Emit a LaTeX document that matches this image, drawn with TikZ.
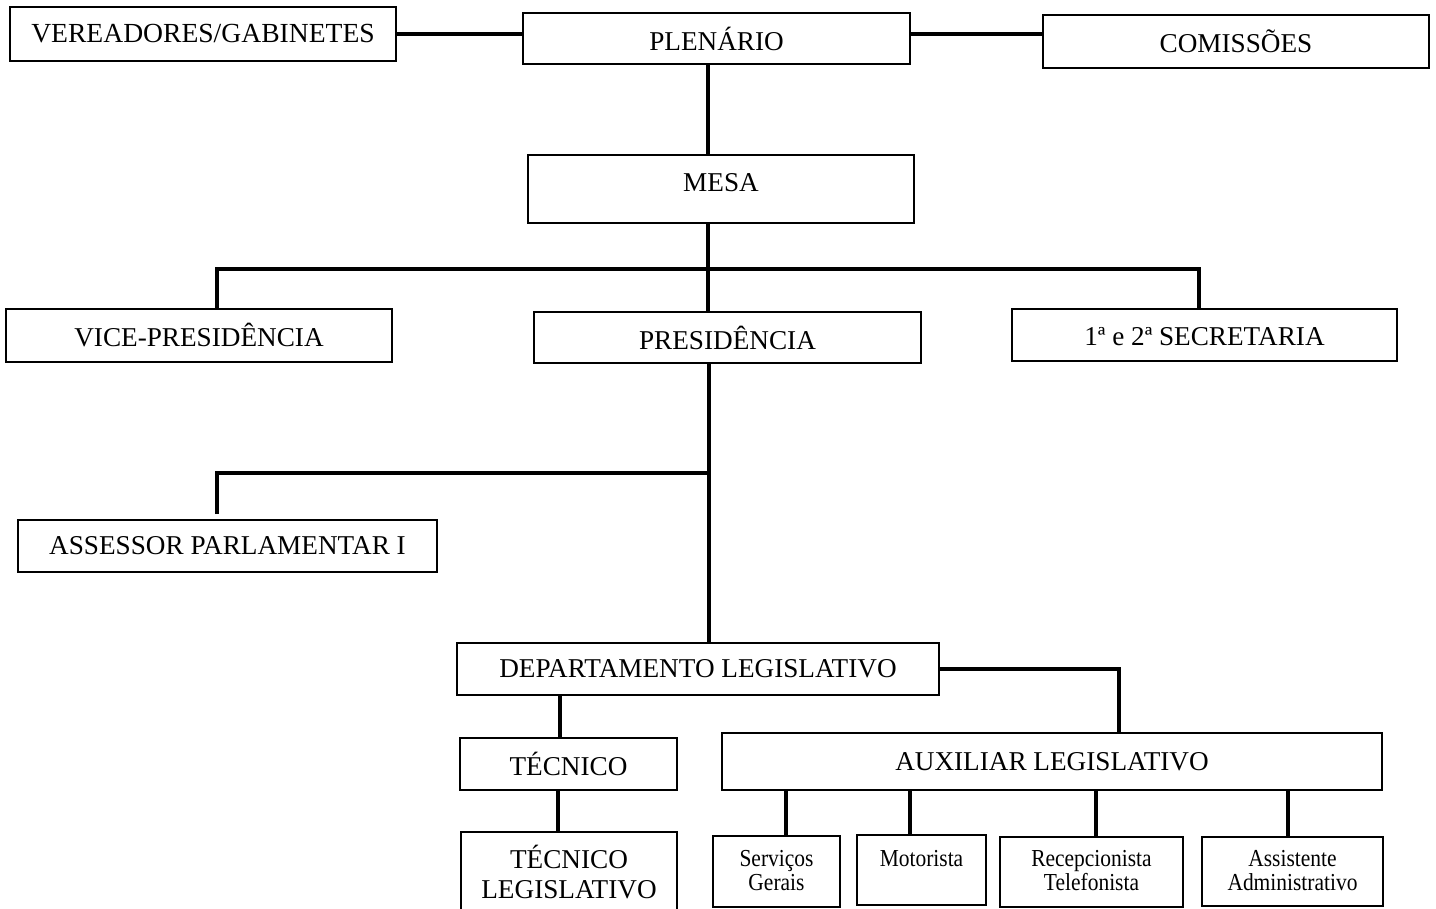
\documentclass[tikz,border=0pt]{standalone}
\usepackage{fontspec}
\setmainfont{Liberation Serif}
\newfontfamily\narrowserif[FakeStretch=0.88]{Liberation Serif}
\begin{document}
\begin{tikzpicture}[x=0.5pt,y=-0.5pt,
  sz/.style 2 args={minimum width=#1*0.5pt, minimum height=#2*0.5pt},
  box/.style={draw,line width=1pt,inner sep=0pt,font=\fontsize{13.6}{15}\selectfont},
  small/.style={draw,line width=1pt,inner sep=0pt,font=\narrowserif\fontsize{12.2}{12}\selectfont},
  conn/.style={line width=1.8pt}]
\useasboundingbox (0,0) rectangle (1436,909);
\fill[white] (0,0) rectangle (1436,909);
\clip (0,0) rectangle (1436,909);

% boxes
\node[box, sz={386}{54}, font=\fontsize{13.8}{15}\selectfont] (ver) at (203,34) {VEREADORES/GABINETES};
\node[box, sz={387}{51}] (ple) at (716.5,38.5) {PLENÁRIO};
\node[box, sz={386}{53}] (com) at (1236,41.5) {COMISSÕES};
\node[box, sz={386}{68}] (mesa) at (721,189) {\raisebox{3pt}[\height][\depth]{MESA}};
\node[box, sz={386}{53}] (vice) at (199,335.5) {VICE-PRESIDÊNCIA};
\node[box, sz={387}{51}] (pres) at (727.5,337.5) {PRESIDÊNCIA};
\node[box, sz={385}{52}] (sec) at (1204.5,335) {\raisebox{-0.8pt}[\height][\depth]{1ª e 2ª SECRETARIA}};
\node[box, sz={419}{52}] (ass) at (227.5,546) {ASSESSOR PARLAMENTAR I};
\node[box, sz={482}{52}] (dep) at (698,669) {DEPARTAMENTO LEGISLATIVO};
\node[box, sz={217}{52}, line width=1.2pt] (tec) at (568.5,764) {TÉCNICO};
\node[box, sz={216}{118}] (tecl) at (569,891) {\raisebox{7.5pt}[\height][\depth]{\begin{tabular}{@{}c@{}}TÉCNICO\\LEGISLATIVO\end{tabular}}};
\node[box, sz={660}{57}] (aux) at (1052,761.5) {AUXILIAR LEGISLATIVO};
\node[small, sz={127}{71}] (ser) at (776.5,871.5) {\raisebox{-1pt}[\height][\depth]{\begin{tabular}{@{}c@{}}Serviços\\Gerais\end{tabular}}};
\node[small, sz={129}{70}] (mot) at (921.5,870) {\raisebox{5.5pt}[\height][\depth]{Motorista}};
\node[small, sz={183}{70}] (rec) at (1091.5,872) {\raisebox{-1pt}[\height][\depth]{\begin{tabular}{@{}c@{}}Recepcionista\\Telefonista\end{tabular}}};
\node[small, sz={181}{69}] (asi) at (1292.5,871.5) {\raisebox{-1pt}[\height][\depth]{\begin{tabular}{@{}c@{}}Assistente\\Administrativo\end{tabular}}};

% helper coordinates
\coordinate (sx) at (708,0);
\coordinate (j1) at (708,269);
\coordinate (j2) at (709,473);
\coordinate (tx) at (560,0);
\coordinate (tx2) at (558,0);
\coordinate (d1) at (786,0);
\coordinate (d2) at (910,0);
\coordinate (d3) at (1096,0);
\coordinate (d4) at (1288,0);

% connectors
\draw[conn] (ver.east) -- (ver.east -| ple.west);
\draw[conn] (ple.east |- ver.east) -- (com.west |- ver.east);
\draw[conn] (ple.south -| sx) -- (mesa.north -| sx);
\draw[conn] (mesa.south -| j1) -- (pres.north -| j1);
\draw[conn] ([xshift=9pt]vice.north) |- (j1) -| ([xshift=-2.75pt]sec.north);
\draw[conn] (pres.south -| j2) -- (dep.north -| j2);
\draw[conn, shorten <=2.5pt] ([xshift=-5.25pt]ass.north) |- (j2);
\draw[conn] (dep.east) -| ([xshift=33.5pt]aux.north);
\draw[conn] (dep.south -| tx) -- (tec.north -| tx);
\draw[conn] (tec.south -| tx2) -- (tecl.north -| tx2);
\draw[conn] (aux.south -| d1) -- (ser.north -| d1);
\draw[conn] (aux.south -| d2) -- (mot.north -| d2);
\draw[conn] (aux.south -| d3) -- (rec.north -| d3);
\draw[conn] (aux.south -| d4) -- (asi.north -| d4);
\end{tikzpicture}
\end{document}
